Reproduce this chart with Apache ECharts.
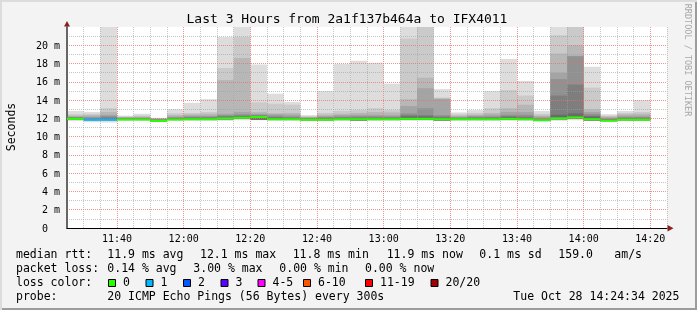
<!DOCTYPE html>
<html><head><meta charset="utf-8">
<script src="https://cdn.jsdelivr.net/npm/echarts@6/dist/echarts.min.js"></script>
<style>
html,body{margin:0;padding:0;background:#f3f3f3;}
#c{width:697px;height:310px;background:#f3f3f3;box-shadow:inset 2px 2px 0 #dcdcdc, inset -2px -2px 0 #9c9c9c;}
#c svg{will-change:transform;}
</style></head><body><div id="c"></div>
<script>
// 5-minute slots (start times)
const slotStart = ['11:25','11:30','11:35','11:40','11:45','11:50','11:55','12:00','12:05','12:10','12:15','12:20',
  '12:25','12:30','12:35','12:40','12:45','12:50','12:55','13:00','13:05','13:10','13:15','13:20',
  '13:25','13:30','13:35','13:40','13:45','13:50','13:55','14:00','14:05','14:10','14:15'];
// median RTT (ms)
const medianRtt = [11.96,11.85,11.85,11.87,11.87,11.72,11.87,11.9,11.9,12.0,12.07,12.15,
  11.9,11.9,11.85,11.85,11.9,11.9,11.9,11.9,11.95,11.95,11.9,11.9,
  11.9,11.9,11.95,11.9,11.8,12.0,12.1,11.9,11.75,11.85,11.85];
// lost pings out of 20
const lossCount = [0,1,1,0,0,0,0,0,0,0,0,0, 0,0,0,0,0,0,0,0,0,0,0,0, 0,0,0,0,0,0,0,0,0,0,0];
// sorted ping values (smoke)
const pingMin = [11.72,11.58,11.55,11.72,11.72,11.58,11.72,11.72,11.72,11.75,11.8,11.8,
  11.72,11.72,11.7,11.7,11.72,11.72,11.72,11.72,11.75,11.75,11.72,11.72,
  11.72,11.72,11.75,11.72,11.65,11.75,11.8,11.72,11.6,11.7,11.7];
const ping10 = [11.9,11.8,11.8,11.82,11.82,11.68,11.82,11.85,11.85,11.9,11.95,11.85,
  11.85,11.85,11.8,11.8,11.85,11.78,11.85,11.85,11.88,11.88,11.78,11.85,
  11.85,11.85,11.88,11.85,11.75,11.9,11.95,11.78,11.7,11.8,11.8];
const ping14 = [12.05,11.95,12.0,11.95,11.95,11.8,11.97,12.0,12.0,12.15,12.2,12.25,
  12.05,12.0,11.95,11.95,12.0,12.0,12.0,12.0,12.2,12.2,12.05,12.0,
  12.0,12.05,12.15,12.05,11.9,12.4,12.55,12.2,11.85,11.95,11.95];
const ping15 = [12.1,12.0,12.1,12.0,12.0,11.85,12.05,12.1,12.1,12.25,12.3,12.3,
  12.15,12.1,12.0,12.05,12.1,12.1,12.1,12.1,12.35,12.35,12.2,12.05,
  12.1,12.1,12.25,12.2,11.95,14.5,15.7,12.3,11.9,12.05,12.05];
const ping16 = [12.15,12.1,12.25,12.05,12.05,11.9,12.1,12.2,12.2,12.35,12.45,12.4,
  12.3,12.2,12.05,12.15,12.2,12.25,12.25,12.2,12.55,13.1,12.35,12.1,
  12.2,12.2,12.4,12.4,12.05,16.3,18.8,12.5,12.0,12.15,12.15];
const ping17 = [12.2,12.2,12.4,12.1,12.1,11.95,12.2,12.3,12.3,12.5,12.7,12.5,
  12.45,12.4,12.1,12.25,12.35,12.4,12.4,12.35,13.35,15.3,14.1,12.2,
  12.3,12.4,12.7,12.7,12.2,17.0,18.85,12.7,12.1,12.3,12.3];
const ping18 = [12.3,12.35,12.7,12.15,12.2,12.0,12.35,12.45,12.5,16.2,18.6,12.7,
  12.55,12.6,12.15,12.4,12.5,12.6,12.7,12.65,14.1,16.45,14.2,12.3,
  12.4,12.6,13.1,13.5,12.3,19.1,20.0,13.0,12.2,12.45,12.5];
const ping19 = [12.45,12.5,13.1,12.2,12.3,12.03,12.55,12.6,12.7,17.5,20.9,13.75,
  13.6,13.5,12.25,12.6,12.8,12.9,13.1,12.9,20.75,23.5,14.26,12.45,
  12.6,13.1,15.1,14.5,12.5,21.1,23.5,15.36,12.3,12.6,12.7];
const pingMax = [12.8,12.7,23.5,12.3,12.5,12.07,13.0,13.7,14.1,20.9,23.5,17.9,
  14.7,13.8,12.35,15.0,17.95,18.3,18.1,15.8,23.5,23.5,15.2,12.65,
  12.9,15.0,18.5,16.1,12.8,23.5,23.5,17.65,12.45,12.8,14.0];
const xTickLabels = ['11:40','12:00','12:20','12:40','13:00','13:20','13:40','14:00','14:20'];
const yTickValues = [0,2,4,6,8,10,12,14,16,18,20];
const lossLabels = ['0','1','2','3','4-5','6-10','11-19','20/20'];
const lossColors = ['#26ff00','#00b8ff','#0059ff','#5e00ff','#ff00ff','#ff5500','#ff0000','#a10000'];

const MONO = '"DejaVu Sans Mono", monospace';
const toMin = s => { const p = s.split(':'); return (+p[0]) * 60 + (+p[1]); };
const pad = n => (n < 10 ? '0' : '') + n;
const STEP = 5;

function lossIdx(n) {
  if (n <= 3) return n;
  if (n <= 5) return 4;
  if (n <= 10) return 5;
  if (n <= 19) return 6;
  return 7;
}

const bandTops = [pingMax, ping19, ping18, ping17, ping16, ping15, ping14];
const series = [];
bandTops.forEach((tops, b) => {
  const lvl = Math.floor(190 / 10 * (10 - (b + 1))) + 50;
  const col = 'rgb(' + lvl + ',' + lvl + ',' + lvl + ')';
  const lows = b === 0 ? pingMin : ping10;
  series.push({
    type: 'custom', z: 2, silent: true,
    encode: { x: [0, 1], y: [2, 3] },
    data: slotStart.map((s, k) => [toMin(s), toMin(s) + STEP, lows[k], tops[k]]),
    renderItem: function (params, api) {
      const p0 = api.coord([api.value(0), api.value(3)]);
      const p1 = api.coord([api.value(1), api.value(2)]);
      const cs = params.coordSys;
      const shape = echarts.graphic.clipRectByRect(
        { x: p0[0], y: p0[1], width: p1[0] - p0[0], height: p1[1] - p0[1] },
        { x: cs.x, y: cs.y, width: cs.width, height: cs.height });
      return shape && { type: 'rect', shape: shape, style: { fill: col } };
    }
  });
});
series.push({
  type: 'custom', z: 5, silent: true,
  encode: { x: [0, 1], y: 2 },
  data: slotStart.map((s, k) => [toMin(s), toMin(s) + STEP, medianRtt[k], lossIdx(lossCount[k])]),
  renderItem: function (params, api) {
    const a = api.coord([api.value(0), api.value(2)]);
    const b = api.coord([api.value(1), api.value(2)]);
    return { type: 'line', shape: { x1: a[0], y1: a[1], x2: b[0], y2: b[1] },
      style: { stroke: lossColors[api.value(3)], lineWidth: 2 } };
  }
});

const red = 'rgba(240,110,110,0.75)';
const gray = 'rgba(160,160,160,0.6)';

const graphics = [];
function txt(x, y, t, opts) {
  opts = opts || {};
  graphics.push({ type: 'text', x: x, y: y, rotation: opts.rot || 0, silent: true, z: 10,
    style: { text: t, font: (opts.size || 11.5) + 'px ' + MONO, fill: opts.color || '#000',
      align: opts.align || 'left', verticalAlign: 'middle' } });
}
txt(347, 18.8, 'Last 3 Hours from 2a1f137b464a to IFX4011', { size: 13, align: 'center' });
txt(10.5, 127, 'Seconds', { rot: Math.PI / 2, align: 'center' });
txt(687.5, 60, 'RRDTOOL / TOBI OETIKER', { rot: -Math.PI / 2, align: 'center', size: 8.5, color: '#a8a8a8' });
// legend
const L1 = 253.5, L2 = 267.5, L3 = 281.5, L4 = 295.5;
txt(16, L1, 'median rtt:'); txt(107.3, L1, '11.9 ms avg'); txt(200, L1, '12.1 ms max');
txt(292.7, L1, '11.8 ms min'); txt(386.7, L1, '11.9 ms now'); txt(479.3, L1, '0.1 ms sd');
txt(558.3, L1, '159.0'); txt(614.3, L1, 'am/s');
txt(16, L2, 'packet loss:'); txt(107.3, L2, '0.14 % avg'); txt(193.3, L2, '3.00 % max');
txt(279.3, L2, '0.00 % min'); txt(365, L2, '0.00 % now');
txt(16, L3, 'loss color:');
const boxX = [108.5, 146, 183.5, 221, 258, 303.5, 365.5, 431];
lossLabels.forEach((lab, i) => {
  graphics.push({ type: 'rect', silent: true, z: 10, shape: { x: boxX[i], y: 279.5, width: 7, height: 7 },
    style: { fill: lossColors[i], stroke: '#000', lineWidth: 1 } });
  txt(boxX[i] + 14.5, L3, lab);
});
txt(16, L4, 'probe:'); txt(107.3, L4, '20 ICMP Echo Pings (56 Bytes) every 300s');
txt(513.3, L4, 'Tue Oct 28 14:24:34 2025');
// axis arrows
graphics.push({ type: 'polygon', silent: true, z: 10, shape: { points: [[64, 26.5], [70, 26.5], [67, 21]] }, style: { fill: '#8b2020' } });
graphics.push({ type: 'polygon', silent: true, z: 10, shape: { points: [[667.5, 225], [667.5, 231.5], [673.5, 228.2]] }, style: { fill: '#8b2020' } });

const chart = echarts.init(document.getElementById('c'), null, { renderer: 'svg' });
chart.setOption({
  backgroundColor: 'transparent',
  animation: false,
  grid: { left: 67, right: 30, top: 27, bottom: 82, show: true, backgroundColor: '#ffffff', borderWidth: 0 },
  xAxis: {
    type: 'value', min: toMin('11:25'), max: toMin('14:25'), interval: 5, z: 3,
    axisLine: { show: true, onZero: false, lineStyle: { color: '#000', width: 1 } },
    axisTick: { show: false },
    axisLabel: { margin: 5, color: '#000', fontFamily: MONO, fontSize: 10,
      formatter: v => { const s = pad(Math.floor(v / 60)) + ':' + pad(v % 60); return xTickLabels.indexOf(s) >= 0 ? s : ''; } },
    splitLine: { show: true, lineStyle: { color: [gray, gray, gray, red], type: [1, 1], width: 1 } }
  },
  yAxis: {
    type: 'value', min: 0, max: 22, interval: 1, z: 3,
    axisLine: { show: true, lineStyle: { color: '#666', width: 2 } },
    axisTick: { show: false },
    axisLabel: { margin: 7, color: '#000', fontFamily: MONO, fontSize: 10,
      formatter: v => yTickValues.indexOf(v) < 0 ? '' : (v === 0 ? '{z|0}' : v + ' m'),
      rich: { z: { fontFamily: MONO, fontSize: 10, color: '#000', padding: [0, 12, 0, 0] } } },
    splitLine: { show: true, showMaxLine: false, lineStyle: { color: [red, gray], type: [1, 1], width: 1 } }
  },
  graphic: graphics,
  series: series
});
</script></body></html>
